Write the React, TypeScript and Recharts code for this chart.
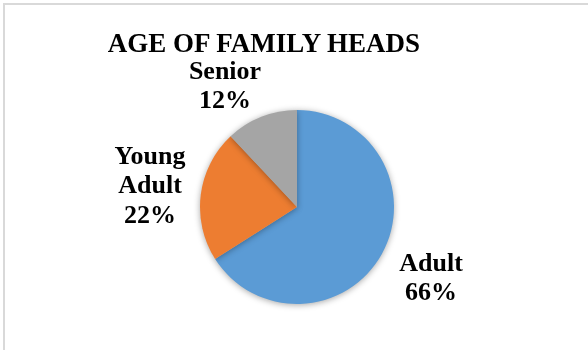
import { PieChart, Pie, Cell } from 'recharts'

const categories = ['Adult', 'Young Adult', 'Senior']
const shares = [66, 22, 12]
const sliceColors = ['#5B9BD5', '#ED7D31', '#A5A5A5']

// small hand nudges so labels sit where Excel's best-fit put them
const labelNudge = [
  [5, -1],
  [-1, -4],
  [-18, 14],
]

const data = categories.map((name, i) => ({ name, value: shares[i] }))

const RAD = Math.PI / 180
const FONT = "'Liberation Serif', 'Times New Roman', serif"
const css = '.recharts-pie-sector { filter: drop-shadow(0px 1px 3px rgba(0,0,0,0.35)); }'
// big serif sizes fall back to a sans face here, so draw at 20px and scale up
const BASE = 20
const LBL_SCALE = 1.3
const TITLE_SCALE = 1.35

function renderLabel(props: any) {
  const { cx, cy, midAngle, outerRadius, index, name, value } = props
  const r = outerRadius + 50
  const x = cx + r * Math.cos(-midAngle * RAD) + labelNudge[index][0]
  const y = cy + r * Math.sin(-midAngle * RAD) + labelNudge[index][1]
  const lines = [...String(name).split(' '), `${value}%`]
  const lh = 29
  const firstBase = y - ((lines.length - 1) * lh) / 2 + 9
  return (
    <foreignObject
      key={`lbl-${index}`}
      x={x - 100}
      y={firstBase - 23.3}
      width={200}
      height={lines.length * lh + 12}
      style={{ overflow: 'visible' }}
    >
      <div
        style={{
          fontFamily: FONT,
          fontWeight: 700,
          fontSize: BASE,
          lineHeight: `${lh / LBL_SCALE}px`,
          textAlign: 'center',
          color: '#000',
          transform: `scale(${LBL_SCALE})`,
          transformOrigin: 'center top',
        }}
      >
        {lines.map((t, i) => (
          <div key={i}>{t}</div>
        ))}
      </div>
    </foreignObject>
  )
}

export default function App() {
  return (
    <div style={{ position: 'absolute', left: 0, top: 0, width: 588, height: 350, background: '#fff' }}>
      <style>{css}</style>
      <div
        style={{
          position: 'absolute',
          left: 3,
          top: 3,
          right: 0,
          bottom: 0,
          borderTop: '2px solid #d9d9d9',
          borderLeft: '2px solid #d9d9d9',
        }}
      />
      <div
        style={{
          position: 'absolute',
          left: 0,
          top: 28,
          width: 528,
          textAlign: 'center',
          fontFamily: FONT,
          fontWeight: 700,
          fontSize: BASE,
          lineHeight: `${30 / TITLE_SCALE}px`,
          color: '#000',
          transform: `scale(${TITLE_SCALE})`,
          transformOrigin: 'center top',
          zIndex: 2,
        }}
      >
        AGE OF FAMILY HEADS
      </div>
      <PieChart
        width={588}
        height={350}
        margin={{ top: 0, right: 0, bottom: 0, left: 0 }}
        style={{ position: 'absolute', left: 0, top: 0 }}
      >
        <Pie
          data={data}
          dataKey="value"
          nameKey="name"
          cx={297}
          cy={207}
          outerRadius={97}
          startAngle={90}
          endAngle={-270}
          stroke="none"
          label={renderLabel}
          labelLine={false}
          isAnimationActive={false}
        >
          {data.map((_, i) => (
            <Cell key={i} fill={sliceColors[i]} />
          ))}
        </Pie>
      </PieChart>
    </div>
  )
}
